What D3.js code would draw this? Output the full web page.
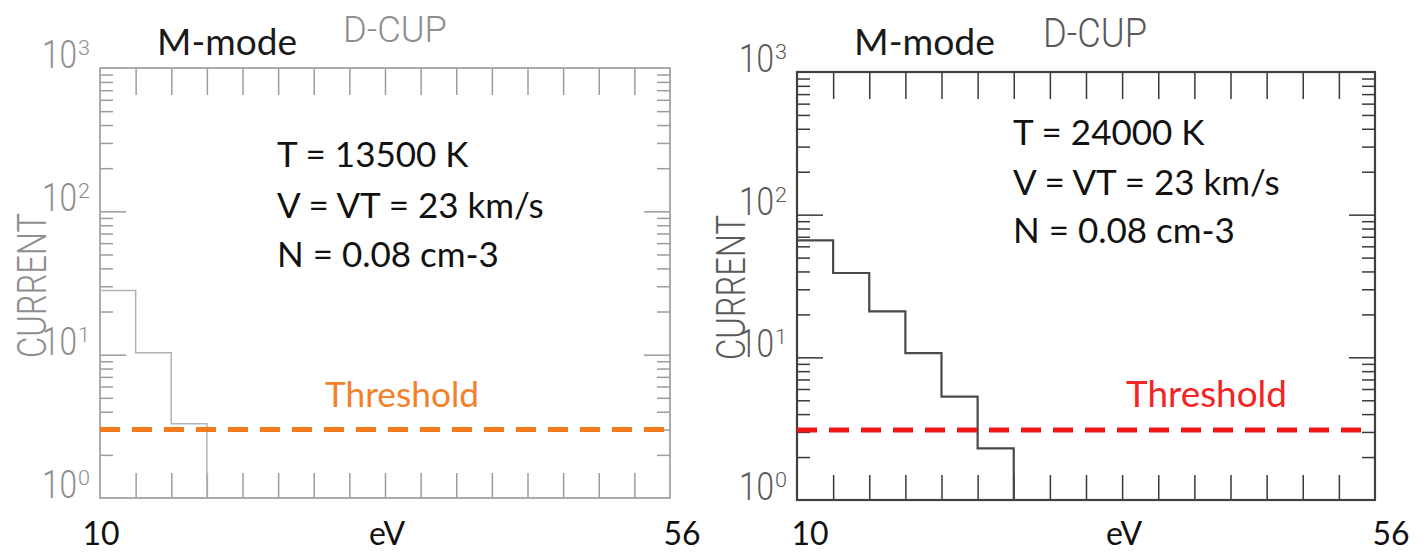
<!DOCTYPE html>
<html><head><meta charset="utf-8">
<script src="https://cdn.jsdelivr.net/npm/d3@7"></script>
<style>body{margin:0;background:#fff;} svg{display:block;}</style>
</head><body>
<svg id="c" width="1423" height="554"></svg>
<script>
// ---- data ----
const xTickValues = [10, 12.875, 15.75, 18.625, 21.5, 24.375, 27.25, 30.125, 33, 35.875, 38.75, 41.625, 44.5, 47.375, 50.25, 53.125, 56];
const xAxisLabels = ["10", "eV", "56"];
const yDecades = [1, 10, 100, 1000];
const yExponents = ["0", "1", "2", "3"];
const yMinorMultipliers = [2, 3, 4, 5, 6, 7, 8, 9];
const leftBinEdges = [10, 12.875, 15.75, 18.625];
const leftCurrent = [28, 10.3, 3.3];
const rightBinEdges = [10, 12.875, 15.75, 18.625, 21.5, 24.375, 27.25];
const rightCurrent = [66, 39, 21, 10.7, 5.3, 2.3];
const leftThreshold = 3.0;
const rightThreshold = 3.1;
const leftParams = ["T = 13500 K", "V = VT = 23 km/s", "N = 0.08 cm-3"];
const rightParams = ["T = 24000 K", "V = VT = 23 km/s", "N = 0.08 cm-3"];
const modeTitle = "M-mode";
const instrument = "D-CUP";
const yTitle = "CURRENT";
const thresholdLabel = "Threshold";

// ---- layout / style ----
const panels = [
  {edges: leftBinEdges, values: leftCurrent, threshold: leftThreshold, params: leftParams,
   x0: 100, x1: 670, y0: 68, y1: 498,
   frame: "#a3a3a3", frameW: 1.8, tick: "#9c9c9c", label: "#8e8e8e", step: "#b3b3b3", stepW: 1.5,
   thresh: "#f47a1e", threshText: "#f4802c", threshEndPad: 0,
   modeX: 157, modeW: 140, dcupX: 343, dcupY: 42, dcupSize: 37, paramX: 277, paramY: [167, 218, 267],
   threshX: 325, threshW: 154, lab10: 101, labEV: 387, lab56: 682, yLabGap: 8, curX: 46, curY: 358},
  {edges: rightBinEdges, values: rightCurrent, threshold: rightThreshold, params: rightParams,
   x0: 797, x1: 1375, y0: 72, y1: 500,
   frame: "#404040", frameW: 2.2, tick: "#3a3a3a", label: "#5a5a5a", step: "#4a4a4a", stepW: 2.2,
   thresh: "#f01616", threshText: "#f42424", threshEndPad: 10,
   modeX: 854, modeW: 141, dcupX: 1043, dcupY: 47, dcupSize: 41, paramX: 1013, paramY: [145, 195, 243],
   threshX: 1126, threshW: 161, lab10: 810, labEV: 1124, lab56: 1391, yLabGap: 8, curX: 745, curY: 360}
];

const svg = d3.select("#c");
const HFONT = "Roboto, 'DejaVu Sans', sans-serif";
const SFONT = "Lato, 'Open Sans', sans-serif";

function hText(g, str, x, y, size, color, anchor, targetW, rot) {
  const t = g.append("text").text(str)
    .attr("font-family", HFONT).attr("font-weight", 300)
    .attr("font-size", size).attr("fill", color).attr("text-anchor", anchor || "start");
  const len = t.node().getComputedTextLength();
  const sx = targetW ? targetW / len : 1;
  t.attr("transform", `translate(${x},${y})` + (rot ? ` rotate(${rot})` : "") + ` scale(${sx},1)`);
  return t;
}
function sText(g, str, x, y, size, color, anchor, targetW) {
  const t = g.append("text").text(str)
    .attr("font-family", SFONT).attr("font-size", size).attr("fill", color)
    .attr("text-anchor", anchor || "start").attr("x", x).attr("y", y);
  if (targetW) {
    const len = t.node().getComputedTextLength();
    t.attr("font-size", size * targetW / len);
  }
  return t;
}

panels.forEach(p => {
  const g = svg.append("g");
  const x = d3.scaleLinear().domain([xTickValues[0], xTickValues[xTickValues.length - 1]]).range([p.x0, p.x1]);
  const y = d3.scaleLog().domain([yDecades[0], yDecades[yDecades.length - 1]]).range([p.y1, p.y0]);

  const minor = [];
  yDecades.slice(0, -1).forEach(d => yMinorMultipliers.forEach(m => minor.push(d * m)));
  const major = yDecades.slice(1, -1);
  const innerX = xTickValues.slice(1, -1);

  function styleAxis(sel) {
    sel.select(".domain").remove();
    sel.selectAll(".tick line").attr("stroke", p.tick).attr("stroke-width", 1.5);
    sel.selectAll(".tick text").remove();
  }
  // y ticks, left side (pointing inward)
  g.append("g").attr("transform", `translate(${p.x0},0)`).call(d3.axisRight(y).tickValues(minor).tickSize(13).tickFormat("")).call(styleAxis);
  g.append("g").attr("transform", `translate(${p.x0},0)`).call(d3.axisRight(y).tickValues(major).tickSize(26).tickFormat("")).call(styleAxis);
  // y ticks, right side
  g.append("g").attr("transform", `translate(${p.x1},0)`).call(d3.axisLeft(y).tickValues(minor).tickSize(13).tickFormat("")).call(styleAxis);
  g.append("g").attr("transform", `translate(${p.x1},0)`).call(d3.axisLeft(y).tickValues(major).tickSize(26).tickFormat("")).call(styleAxis);
  // x ticks bottom (upward) and top (downward)
  g.append("g").attr("transform", `translate(0,${p.y1})`).call(d3.axisTop(x).tickValues(innerX).tickSize(25).tickFormat("")).call(styleAxis);
  g.append("g").attr("transform", `translate(0,${p.y0})`).call(d3.axisBottom(x).tickValues(innerX).tickSize(27).tickFormat("")).call(styleAxis);

  // frame
  g.append("rect").attr("x", p.x0).attr("y", p.y0).attr("width", p.x1 - p.x0).attr("height", p.y1 - p.y0)
    .attr("fill", "none").attr("stroke", p.frame).attr("stroke-width", p.frameW);

  // histogram steps
  const pts = p.values.map((v, i) => [p.edges[i], v]);
  pts.push([p.edges[p.edges.length - 1], yDecades[0]]);
  const line = d3.line().x(d => x(d[0])).y(d => y(d[1])).curve(d3.curveStepAfter);
  g.append("path").attr("d", line(pts)).attr("fill", "none").attr("stroke", p.step).attr("stroke-width", p.stepW);

  // threshold
  g.append("line").attr("x1", p.x0).attr("x2", p.x1 - p.threshEndPad)
    .attr("y1", y(p.threshold)).attr("y2", y(p.threshold))
    .attr("stroke", p.thresh).attr("stroke-width", 5).attr("stroke-dasharray", "20 12");
  sText(g, thresholdLabel, p.threshX, 407, 35, p.threshText, "start", p.threshW);

  // y decade labels
  yDecades.forEach((d, i) => {
    const yy = y(d);
    const xr = p.x0 - p.yLabGap;
    hText(g, "10", xr - 15, yy, 39, p.label, "end", 35);
    hText(g, yExponents[i], xr - 14, yy - 13, 21, p.label, "start", 12);
  });
  // y title
  hText(g, yTitle, p.curX, p.curY, 40, p.label, "start", 145, -90);
  // titles
  sText(g, modeTitle, p.modeX, 55, 35, "#1a1a1a", "start", p.modeW);
  hText(g, instrument, p.dcupX, p.dcupY, p.dcupSize, p.label, "start", 104);
  // params
  p.params.forEach((s, i) => sText(g, s, p.paramX, p.paramY[i], 35, "#111"));
  // x labels
  sText(g, xAxisLabels[0], p.lab10, 545, 32, "#111", "middle");
  sText(g, xAxisLabels[1], p.labEV, 545, 32, "#111", "middle");
  sText(g, xAxisLabels[2], p.lab56, 545, 32, "#111", "middle");
});
</script>
</body></html>
